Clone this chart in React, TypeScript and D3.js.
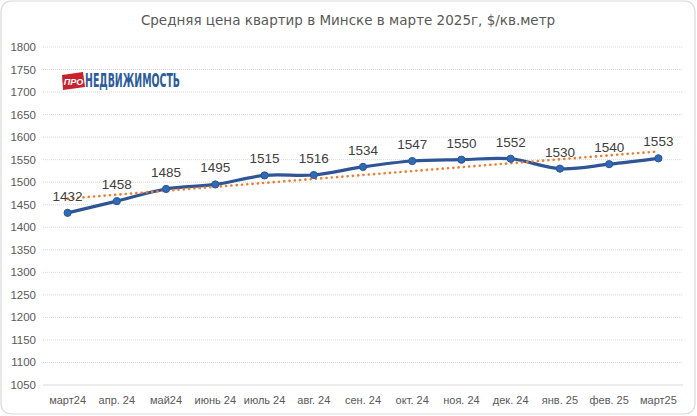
import React from "react";
import * as d3 from "d3";

const categories = ["март24", "апр. 24", "май24", "июнь 24", "июль 24", "авг. 24", "сен. 24", "окт. 24", "ноя. 24", "дек. 24", "янв. 25", "фев. 25", "март25"];
const prices = [1432, 1458, 1485, 1495, 1515, 1516, 1534, 1547, 1550, 1552, 1530, 1540, 1553];
const yTicks = [1050, 1100, 1150, 1200, 1250, 1300, 1350, 1400, 1450, 1500, 1550, 1600, 1650, 1700, 1750, 1800];
const title = "Средняя  цена квартир в Минске в марте 2025г, $/кв.метр";

const W = 697;
const H = 416;
const left = 43;
const right = 683;
const top = 47;
const bottom = 385;

export default function App() {
  const x = d3.scaleBand<string>().domain(categories).range([left, right]);
  const cx = (c: string) => (x(c) as number) + x.bandwidth() / 2;
  const y = d3.scaleLinear().domain([1050, 1800]).range([bottom, top]);

  // linear trendline (least squares over the series)
  const n = prices.length;
  const idx = prices.map((_, i) => i);
  const mx = d3.mean(idx) as number;
  const my = d3.mean(prices) as number;
  const slope = d3.sum(idx, (i) => (i - mx) * (prices[i] - my)) / d3.sum(idx, (i) => (i - mx) ** 2);
  const intercept = my - slope * mx;
  const trend = [0, n - 1].map((i) => [cx(categories[i]), y(intercept + slope * i)] as [number, number]);

  const pts = prices.map((v, i) => [cx(categories[i]), y(v)] as [number, number]);
  const linePath = d3.line().curve(d3.curveCatmullRom.alpha(0.5))(pts) as string;

  const font = "'Liberation Sans', Arial, sans-serif";

  return (
    <svg width={W} height={H} style={{ position: "absolute", left: 0, top: 0 }} fontFamily={font}>
      <rect x={0} y={0} width={W} height={H} fill="#fff" />
      <rect x={1} y={1} width={W - 3} height={H - 3} rx={10} fill="#fff" stroke="#d9d9d9" strokeWidth={1.2} />
      <text x={348} y={25} textAnchor="middle" fontSize={13.5} fill="#595959" fontFamily="'DejaVu Sans', sans-serif">{title}</text>

      {yTicks.map((t) => (
        <g key={t}>
          {t !== 1050 && (
            <line x1={left} x2={right} y1={y(t)} y2={y(t)} stroke="#d9d9d9" strokeWidth={1} strokeDasharray="1 1" />
          )}
          <text x={36} y={y(t) + 4} textAnchor="end" fontSize={11.5} fill="#595959">{t}</text>
        </g>
      ))}
      <line x1={left} x2={right} y1={bottom} y2={bottom} stroke="#d9d9d9" strokeWidth={1} />
      {categories.map((c) => (
        <text key={c} x={cx(c)} y={404} textAnchor="middle" fontSize={11} fill="#595959">{c}</text>
      ))}

      {/* logo */}
      <g>
        <polygon points="62,75 83,72 85,87 63,90" fill="#c8232c" />
        <text x={73.5} y={85} textAnchor="middle" fontSize={9} fontWeight="bold" fill="#fff" fontStyle="italic">ПРО</text>
        <text x={85} y={87} fontSize={19} fontWeight="bold" fill="#2d5c9b" fontFamily="'Liberation Sans Narrow', 'DejaVu Sans Condensed', sans-serif" textLength={95} lengthAdjust="spacingAndGlyphs">НЕДВИЖИМОСТЬ</text>
      </g>

      <path d={linePath} fill="none" stroke="#2f5597" strokeWidth={3.2} strokeLinejoin="round" />
      <line x1={trend[0][0]} y1={trend[0][1]} x2={trend[1][0]} y2={trend[1][1]} stroke="#ed7d31" strokeWidth={2.6} strokeDasharray="0.1 5.2" strokeLinecap="round" />
      {pts.map((p, i) => (
        <circle key={i} cx={p[0]} cy={p[1]} r={3.6} fill="#2e6ab5" stroke="#2f5597" strokeWidth={1} />
      ))}
      {pts.map((p, i) => (
        <text key={"l" + i} x={p[0]} y={p[1] - 12} textAnchor="middle" fontSize={13.5} fill="#404040">{prices[i]}</text>
      ))}
    </svg>
  );
}
